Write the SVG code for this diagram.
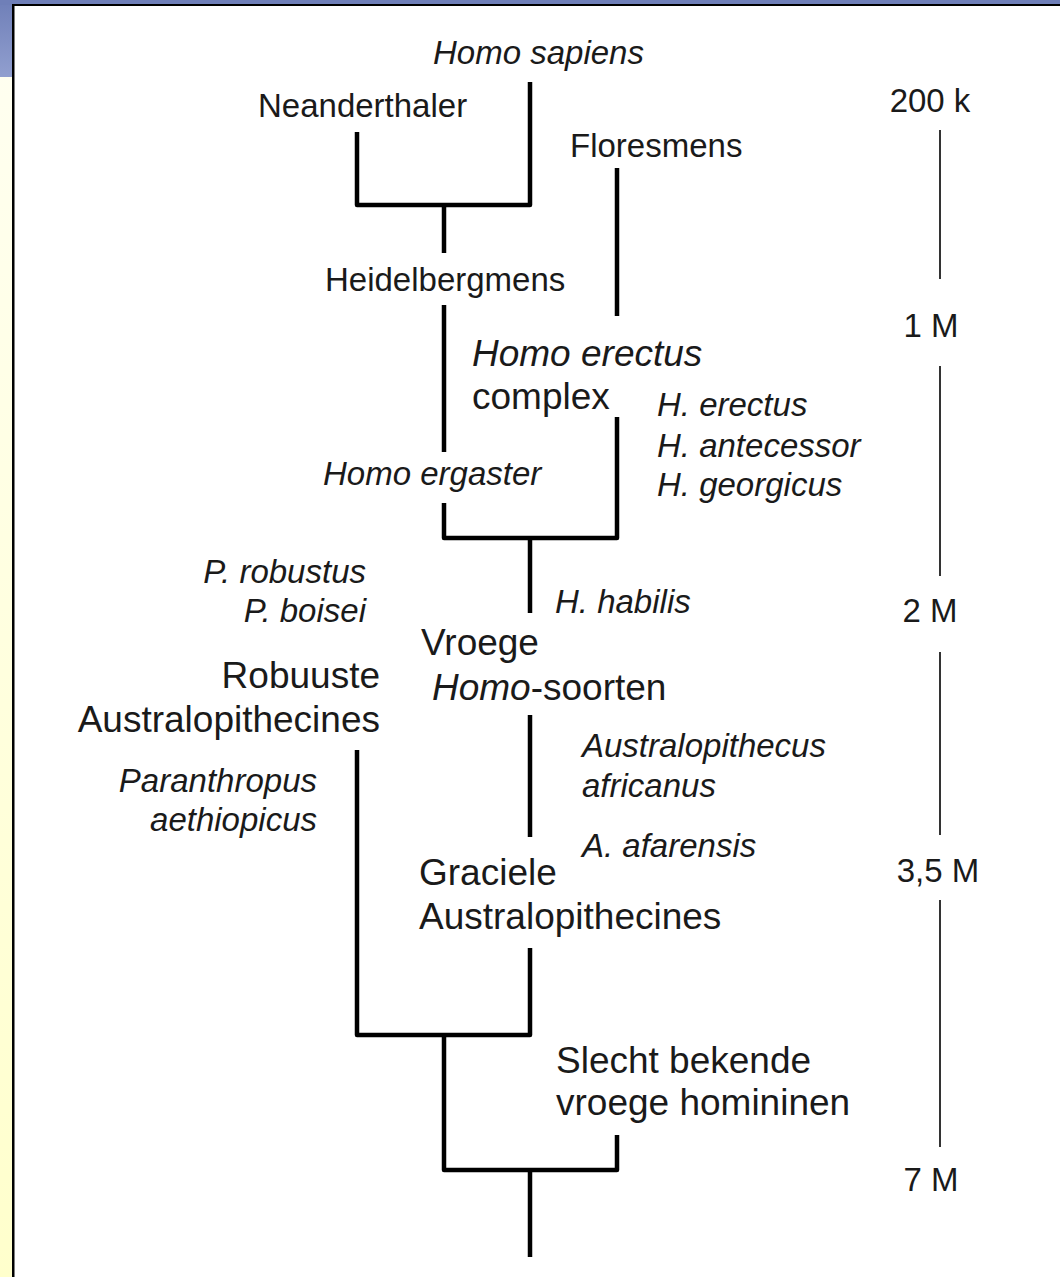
<svg xmlns="http://www.w3.org/2000/svg" width="1060" height="1277" viewBox="0 0 1060 1277">
<defs>
<linearGradient id="yel" x1="0" y1="0" x2="0" y2="1">
<stop offset="0" stop-color="#fffff2"/>
<stop offset="1" stop-color="#ffffcc"/>
</linearGradient>
<linearGradient id="blu" x1="0" y1="0" x2="0" y2="1">
<stop offset="0" stop-color="#6f7fb8"/>
<stop offset="1" stop-color="#919fcf"/>
</linearGradient>
<style>
text{font-family:"Liberation Sans",Arial,sans-serif;fill:#1a1a1a;font-size:33px}
.big{font-size:37px}
.it{font-style:italic}
.r{text-anchor:end}
.m{text-anchor:middle}
.br{fill:none;stroke:#000;stroke-width:4.5;stroke-linejoin:round;stroke-linecap:butt}
.tl{fill:none;stroke:#333;stroke-width:2}
</style>
</defs>
<rect x="0" y="0" width="1060" height="1277" fill="#fff"/>
<g id="frame">
<rect x="0" y="0" width="13" height="1277" fill="url(#yel)"/>
<rect x="0" y="0" width="13" height="77" fill="url(#blu)"/>
<rect x="0" y="0" width="1060" height="5" fill="#6f7fb8"/>
<rect x="12" y="4" width="1048" height="2" fill="#000"/>
<rect x="12" y="4" width="2.5" height="1273" fill="#000"/>
</g>
<g id="connectors">
<path class="br" d="M357,132 V205 H530 V82"/>
<path class="br" d="M444,205 V253"/>
<path class="br" d="M444,305 V452"/>
<path class="br" d="M617,168 V316"/>
<path class="br" d="M444,503 V538 H617 V417"/>
<path class="br" d="M530,538 V613"/>
<path class="br" d="M530,715 V837"/>
<path class="br" d="M357,750 V1035 H530 V948"/>
<path class="br" d="M444,1035 V1170 H617 V1135"/>
<path class="br" d="M530,1170 V1257"/>
</g>
<g id="timeline">
<path class="tl" d="M940,130 V279 M940,366 V576 M940,652 V835 M940,900 V1147"/>
<text class="m" x="930" y="112">200 k</text>
<text class="m" x="931" y="337">1 M</text>
<text class="m" x="930" y="622">2 M</text>
<text class="m" x="938" y="882">3,5 M</text>
<text class="m" x="931" y="1191">7 M</text>
</g>
<g id="homo-sapiens"><text class="it" x="433" y="64">Homo sapiens</text></g>
<g id="neanderthaler"><text x="258" y="117">Neanderthaler</text></g>
<g id="floresmens"><text x="570" y="157">Floresmens</text></g>
<g id="heidelbergmens"><text x="325" y="291">Heidelbergmens</text></g>
<g id="homo-erectus-complex">
<text class="big it" x="472" y="366">Homo erectus</text>
<text class="big" x="472" y="409">complex</text>
</g>
<g id="erectus-species">
<text class="it" x="657" y="416">H. erectus</text>
<text class="it" x="657" y="457">H. antecessor</text>
<text class="it" x="657" y="496">H. georgicus</text>
</g>
<g id="homo-ergaster"><text class="it" x="323" y="485">Homo ergaster</text></g>
<g id="paranthropus-species">
<text class="it r" x="366" y="583">P. robustus</text>
<text class="it r" x="366" y="622">P. boisei</text>
</g>
<g id="h-habilis"><text class="it" x="555" y="613">H. habilis</text></g>
<g id="vroege-homo">
<text class="big" x="421" y="655">Vroege</text>
<text class="big" x="432" y="700"><tspan class="it">Homo</tspan>-soorten</text>
</g>
<g id="robuuste">
<text class="big r" x="380" y="688">Robuuste</text>
<text class="big r" x="380" y="732">Australopithecines</text>
</g>
<g id="paranthropus-aethiopicus">
<text class="it r" x="317" y="792">Paranthropus</text>
<text class="it r" x="317" y="831">aethiopicus</text>
</g>
<g id="au-africanus">
<text class="it" x="582" y="757">Australopithecus</text>
<text class="it" x="582" y="797">africanus</text>
</g>
<g id="a-afarensis"><text class="it" x="582" y="857">A. afarensis</text></g>
<g id="graciele">
<text class="big" x="419" y="885">Graciele</text>
<text class="big" x="419" y="929">Australopithecines</text>
</g>
<g id="slecht-bekende">
<text class="big" x="556" y="1073">Slecht bekende</text>
<text class="big" x="556" y="1115">vroege homininen</text>
</g>
</svg>
